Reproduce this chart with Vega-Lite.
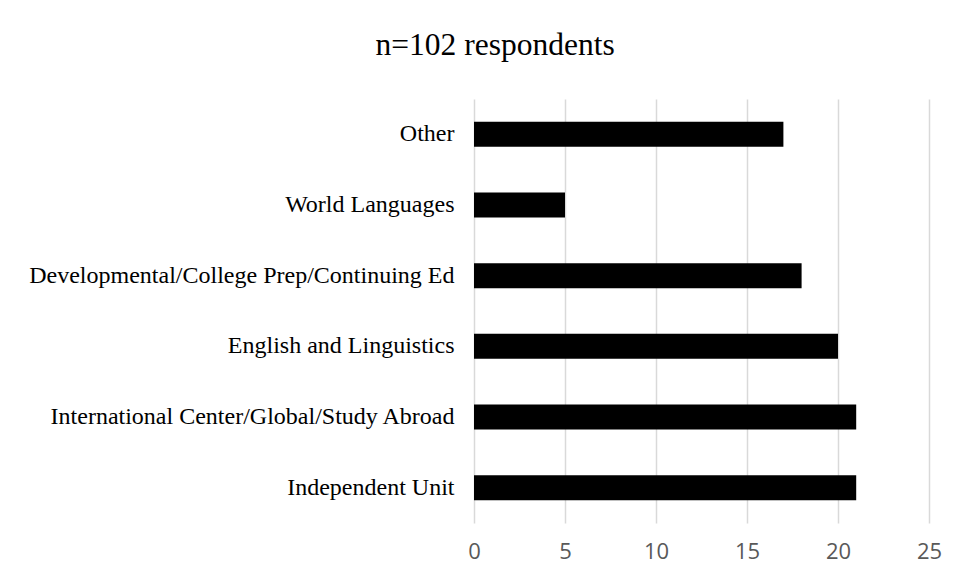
{
  "$schema": "https://vega.github.io/schema/vega-lite/v6.json",
  "width": 455,
  "height": 424,
  "padding": {"left": 28, "top": 29, "right": 31, "bottom": 10},
  "background": "white",
  "title": {
    "text": "n=102 respondents",
    "font": "Liberation Serif",
    "fontSize": 31.5,
    "fontWeight": "normal",
    "color": "#000000",
    "anchor": "middle",
    "frame": "bounds",
    "offset": 38,
    "dx": 10
  },
  "data": {
    "values": [
      {"category": "Other", "count": 17},
      {"category": "World Languages", "count": 5},
      {"category": "Developmental/College Prep/Continuing Ed", "count": 18},
      {"category": "English and Linguistics", "count": 20},
      {"category": "International Center/Global/Study Abroad", "count": 21},
      {"category": "Independent Unit", "count": 21}
    ]
  },
  "mark": {"type": "bar", "color": "#000000"},
  "encoding": {
    "y": {
      "field": "category",
      "type": "nominal",
      "sort": null,
      "scale": {"paddingInner": 0.646, "paddingOuter": 0.323},
      "axis": {
        "title": null,
        "domain": false,
        "ticks": false,
        "grid": false,
        "labelFont": "Liberation Serif",
        "labelFontSize": 24,
        "labelColor": "#000000",
        "labelPadding": 20,
        "labelLimit": 600
      }
    },
    "x": {
      "field": "count",
      "type": "quantitative",
      "scale": {"domain": [0, 25]},
      "axis": {
        "title": null,
        "values": [0, 5, 10, 15, 20, 25],
        "domain": false,
        "ticks": false,
        "grid": true,
        "gridColor": "#d9d9d9",
        "gridWidth": 1.5,
        "labelFlush": false,
        "labelFont": "Open Sans",
        "labelFontSize": 22,
        "labelColor": "#595959",
        "labelPadding": 18
      }
    }
  },
  "config": {"view": {"stroke": null}}
}
